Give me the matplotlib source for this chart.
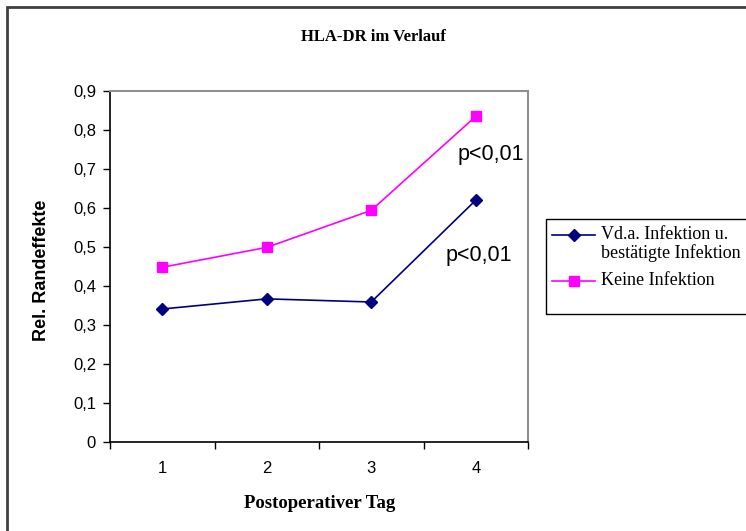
import matplotlib
matplotlib.use("Agg")
import matplotlib.pyplot as plt
from matplotlib.patches import Rectangle
from matplotlib.lines import Line2D
from matplotlib.ticker import FixedLocator, FuncFormatter

tage = [1, 2, 3, 4]
tag_labels = ["1", "2", "3", "4"]
infektion = [0.341, 0.367, 0.359, 0.620]
keine_infektion = [0.448, 0.499, 0.594, 0.835]
y_ticks = [0, 0.1, 0.2, 0.3, 0.4, 0.5, 0.6, 0.7, 0.8, 0.9]
p_text = "p<0,01"
namen = ["Vd.a. Infektion u.\nbestätigte Infektion", "Keine Infektion"]

serif = ["Liberation Serif", "DejaVu Serif"]
sans = ["Liberation Sans", "DejaVu Sans"]

fig = plt.figure(figsize=(7.46, 5.31), dpi=100)
W, H = 746, 531

def fx(px):
    return px / W

def fy(py):
    return 1 - py / H

# Rahmen um das ganze Diagramm
fig.patches.append(Rectangle((fx(7), -0.05), 1.1, fy(7) + 0.05,
                             transform=fig.transFigure, fill=False,
                             edgecolor="#404040", linewidth=2))

ax = fig.add_axes([fx(110), fy(442), (528 - 110) / W, (442 - 91) / H])
stil = [dict(color="#000080", marker="D", markersize=6.5),
        dict(color="#FF00FF", marker="s", markersize=6.5)]
ax.plot(tage, infektion, linewidth=1.2, **stil[0])
ax.plot(tage, keine_infektion, linewidth=1.2, **stil[1])

ax.set_xlim(0.5, 4.5)
ax.set_ylim(0, 0.9)
ax.set_yticks(y_ticks)
ax.yaxis.set_major_formatter(FuncFormatter(lambda v, p: ("%.1f" % v).replace(".", ",") if v else "0"))
ax.set_xticks(tage)
ax.set_xticklabels(tag_labels)
ax.xaxis.set_minor_locator(FixedLocator([0.5, 1.5, 2.5, 3.5, 4.5]))
ax.tick_params(axis="x", which="major", length=0, pad=14)
ax.tick_params(axis="x", which="minor", length=5, width=1)
ax.tick_params(axis="y", length=5, width=1, pad=5)
for lab in ax.get_xticklabels() + ax.get_yticklabels():
    lab.set_family(sans)
    lab.set_fontsize(12)

for s in ("left", "bottom"):
    ax.spines[s].set_color("black")
    ax.spines[s].set_linewidth(1.2)
for s in ("top", "right"):
    ax.spines[s].set_color("#909090")
    ax.spines[s].set_linewidth(1.5)

ax.text(3.83, 0.736, p_text, fontsize=15.5, family=sans, va="center", clip_on=False)
ax.text(3.71, 0.477, p_text, fontsize=15.5, family=sans, va="center", clip_on=False)

fig.text(fx(373), fy(37), "HLA-DR im Verlauf", ha="center", va="center",
         fontsize=12, fontweight="bold", family=serif)
fig.text(fx(320), fy(503), "Postoperativer Tag", ha="center", va="center",
         fontsize=13.5, fontweight="bold", family=serif)
fig.text(fx(42), fy(270), "Rel. Randeffekte", ha="center", va="center",
         rotation=90, fontsize=13, fontweight="bold", family=sans)

# Legende
fig.patches.append(Rectangle((fx(546), fy(314)), 0.5, (314 - 219) / H,
                             transform=fig.transFigure, fill=False,
                             edgecolor="black", linewidth=1))
for i, (name, y) in enumerate(zip(namen, [235, 281])):
    fig.lines.append(Line2D([fx(552), fx(595)], [fy(y), fy(y)],
                            transform=fig.transFigure, linewidth=1.2,
                            color=stil[i]["color"]))
    fig.lines.append(Line2D([fx(573.5)], [fy(y)], transform=fig.transFigure,
                            linestyle="none", **stil[i]))
    fig.text(fx(601), fy(y - 9), name, ha="left", va="top", fontsize=13,
             family=serif, linespacing=1.1)

fig.savefig("out.png", dpi=100)
